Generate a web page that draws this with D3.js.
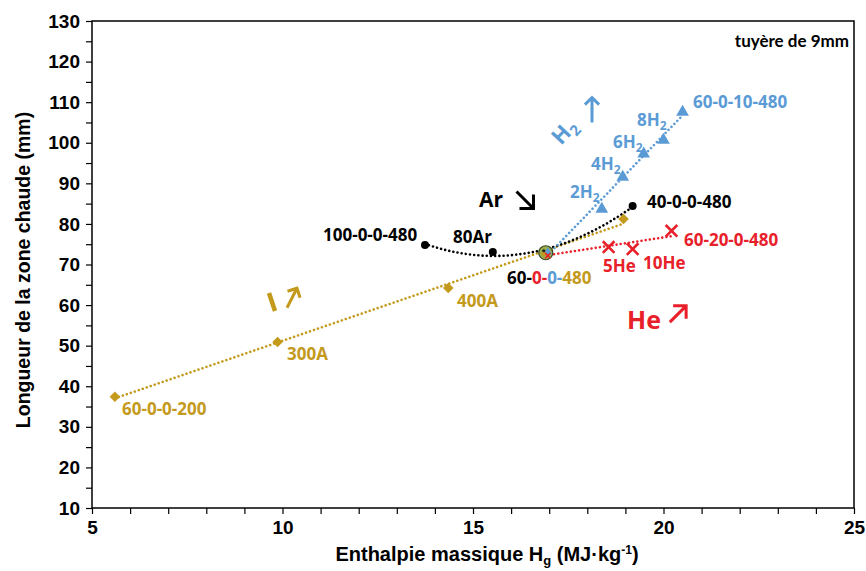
<!DOCTYPE html>
<html>
<head>
<meta charset="utf-8">
<script src="https://cdn.jsdelivr.net/npm/d3@7"></script>
<style>
  body { margin: 0; background: #fff; }
  svg text { font-family: "Liberation Sans", Arial, sans-serif; }
  .lbl { font-family: "Open Sans", "Noto Sans", sans-serif; font-weight: 700; font-size: 17px; }
</style>
</head>
<body>
<div id="chart"></div>
<script>
// données (tuyère de 9 mm)
const xTicks = [5, 10, 15, 20, 25];
const yTicks = [10, 20, 30, 40, 50, 60, 70, 80, 90, 100, 110, 120, 130];

// courant (I) : 200A -> 480A
const iX = [5.6, 9.87, 14.35, 16.91, 18.95];
const iY = [37.4, 50.9, 64.2, 72.9, 81.2];
// argon
const arX = [13.74, 15.52, 16.91, 19.19];
const arY = [74.8, 73.1, 72.9, 84.4];
// hydrogene
const h2X = [16.91, 18.38, 18.93, 19.48, 20.0, 20.5];
const h2Y = [72.9, 83.9, 91.8, 97.5, 100.9, 107.8];
// helium
const heX = [16.91, 18.56, 19.19, 20.21];
const heY = [72.9, 74.3, 73.8, 78.3];

const gold = '#c49a1c', blue = '#5b9bd5', red = '#e8202a', black = '#000';

const W = 866, H = 571;
const margin = { top: 21, right: 12, bottom: 63, left: 92 };

const svg = d3.select('#chart').append('svg')
    .attr('width', W).attr('height', H);

const x = d3.scaleLinear().domain([5, 25]).range([margin.left, W - margin.right]);
const y = d3.scaleLinear().domain([10, 130]).range([H - margin.bottom, margin.top]);

// cadre
svg.append('rect')
    .attr('x', x(5)).attr('y', y(130))
    .attr('width', x(25) - x(5)).attr('height', y(10) - y(130))
    .attr('fill', 'none').attr('stroke', '#000').attr('stroke-width', 1.5);

// axes
const xAxis = svg.append('g').attr('transform', `translate(0,${y(10)})`)
    .call(d3.axisBottom(x).tickValues(d3.range(5, 26, 1)).tickSize(6)
        .tickFormat(d => xTicks.includes(d) ? d : ''));
xAxis.select('.domain').remove();
xAxis.selectAll('text')
    .attr('y', 12).attr('dy', '0.75em')
    .style('font-weight', 700).style('font-size', '19px');

const yAxis = svg.append('g').attr('transform', `translate(${x(5)},0)`)
    .call(d3.axisLeft(y).tickValues(d3.range(10, 131, 5)).tickSize(6)
        .tickFormat(d => yTicks.includes(d) ? d : ''));
yAxis.select('.domain').remove();
yAxis.selectAll('text').attr('x', -12)
    .style('font-weight', 700).style('font-size', '19px');
svg.selectAll('.tick line').attr('stroke', '#000').attr('stroke-width', 1.2);

// titres des axes
svg.append('text')
    .attr('transform', `translate(30,270) rotate(-90)`)
    .attr('text-anchor', 'middle')
    .style('font-weight', 700).style('font-size', '19.5px')
    .text('Longueur de la zone chaude (mm)');

const xt = svg.append('text')
    .attr('x', 487).attr('y', 561)
    .attr('text-anchor', 'middle')
    .style('font-weight', 700).style('font-size', '20px');
xt.append('tspan').text('Enthalpie massique H');
xt.append('tspan').attr('dy', 4).style('font-size', '13px').text('g');
xt.append('tspan').attr('dy', -4).text(' (MJ·kg');
xt.append('tspan').attr('dy', -7).style('font-size', '12px').text('-1');
xt.append('tspan').attr('dy', 7).text(')');

svg.append('text')
    .attr('x', 849).attr('y', 47).attr('text-anchor', 'end')
    .style('font-family', 'Lato, "Open Sans", sans-serif')
    .style('font-weight', 700).style('font-size', '17px')
    .text('tuyère de 9mm');

// ajustement polynomial par moindres carres (courbes de tendance)
function polyfit(xs, ys, deg) {
    const n = deg + 1;
    const A = d3.range(n).map(i => d3.range(n).map(j => d3.sum(xs, v => Math.pow(v, i + j))));
    const b = d3.range(n).map(i => d3.sum(xs, (v, k) => Math.pow(v, i) * ys[k]));
    for (let c = 0; c < n; c++) {
        for (let r = c + 1; r < n; r++) {
            const f = A[r][c] / A[c][c];
            for (let k = c; k < n; k++) A[r][k] -= f * A[c][k];
            b[r] -= f * b[c];
        }
    }
    const coef = new Array(n).fill(0);
    for (let r = n - 1; r >= 0; r--) {
        let s = b[r];
        for (let k = r + 1; k < n; k++) s -= A[r][k] * coef[k];
        coef[r] = s / A[r][r];
    }
    return v => d3.sum(coef, (c, i) => c * Math.pow(v, i));
}

const line = d3.line().x(d => x(d[0])).y(d => y(d[1]));

function trend(xs, ys, deg, color) {
    const f = polyfit(xs, ys, deg);
    const [a, b] = d3.extent(xs);
    const pts = d3.range(0, 41).map(i => { const v = a + (b - a) * i / 40; return [v, f(v)]; });
    svg.append('path').datum(pts)
        .attr('d', line)
        .attr('fill', 'none').attr('stroke', color)
        .attr('stroke-width', 2.6)
        .attr('stroke-dasharray', '0.01 4.2')
        .attr('stroke-linecap', 'round');
}

trend(iX, iY, 1, gold);
trend(arX, arY, 2, black);
trend(h2X, h2Y, 1, blue);
trend(heX, heY, 1, red);

// marqueurs
const zip = (a, b) => a.map((v, i) => [v, b[i]]);

svg.append('g').selectAll('path').data(zip(iX, iY)).join('path')
    .attr('transform', d => `translate(${x(d[0])},${y(d[1])})`)
    .attr('d', d3.symbol(d3.symbolDiamond2, 70))
    .attr('fill', gold);

svg.append('g').selectAll('path').data(zip(h2X, h2Y).slice(1)).join('path')
    .attr('transform', d => `translate(${x(d[0])},${y(d[1]) + 1})`)
    .attr('d', d3.symbol(d3.symbolTriangle, 70))
    .attr('fill', blue);

svg.append('g').selectAll('path').data(zip(heX, heY).slice(1)).join('path')
    .attr('transform', d => `translate(${x(d[0])},${y(d[1])})`)
    .attr('d', d3.symbol(d3.symbolTimes, 90))
    .attr('fill', 'none').attr('stroke', red).attr('stroke-width', 2.6);

svg.append('g').selectAll('circle').data(zip(arX, arY).filter(d => d[0] !== 16.91)).join('circle')
    .attr('cx', d => x(d[0])).attr('cy', d => y(d[1])).attr('r', 4)
    .attr('fill', black);

// point central commun (60-0-0-480) : marqueurs superposes
const c0 = [x(iX[3]), y(iY[3])];
const cg = svg.append('g').attr('transform', `translate(${c0[0]},${c0[1]})`);
cg.append('circle').attr('r', 7).attr('fill', '#9bb04a').attr('stroke', '#3a4a2a').attr('stroke-width', 1.2);
cg.append('path').attr('d', d3.symbol(d3.symbolTriangle, 30)).attr('fill', blue).attr('transform', 'translate(2,-1)');
cg.append('path').attr('d', d3.symbol(d3.symbolDiamond2, 25)).attr('fill', gold).attr('transform', 'translate(-2,1)');
cg.append('path').attr('d', d3.symbol(d3.symbolTimes, 20)).attr('fill', 'none').attr('stroke', red)
    .attr('stroke-width', 1.5).attr('transform', 'translate(2,3)');
cg.append('circle').attr('r', 1.6).attr('fill', '#222').attr('cx', -2).attr('cy', -2);

// etiquettes
function label(tx, ty, txt, color, size) {
    return svg.append('text').attr('class', 'lbl')
        .attr('x', tx).attr('y', ty).attr('fill', color)
        .style('font-size', (size || 17) + 'px').text(txt);
}
function labelSub(tx, ty, main, sub, color) {
    const t = svg.append('text').attr('class', 'lbl').attr('x', tx).attr('y', ty).attr('fill', color);
    t.append('tspan').text(main);
    t.append('tspan').attr('dy', 4).style('font-size', '12px').text(sub);
    return t;
}

label(122, 415, '60-0-0-200', gold);
label(287, 360, '300A', gold);
label(457, 307, '400A', gold);

label(323, 241, '100-0-0-480', black);
label(453, 243, '80Ar', black);
label(647, 208, '40-0-0-480', black);

label(693, 108, '60-0-10-480', blue);
labelSub(637, 126, '8H', '2', blue);
labelSub(613, 148, '6H', '2', blue);
labelSub(591, 170, '4H', '2', blue);
labelSub(570, 198, '2H', '2', blue);

label(684, 246, '60-20-0-480', red);
label(603, 272, '5He', red);
label(643, 269, '10He', red);

const cl = svg.append('text').attr('class', 'lbl').attr('x', 507).attr('y', 284);
[['60-', black], ['0-', red], ['0-', blue], ['480', gold]].forEach(p =>
    cl.append('tspan').attr('fill', p[1]).text(p[0]));

// fleches de tendance
function arrow(cx, cy, len, angle, h, color) {
    const a = angle * Math.PI / 180;
    const tip = [cx + Math.cos(a) * len / 2, cy + Math.sin(a) * len / 2];
    const tail = [cx - Math.cos(a) * len / 2, cy - Math.sin(a) * len / 2];
    const arm = s => [tip[0] - Math.cos(a + s) * h, tip[1] - Math.sin(a + s) * h];
    const p = d3.path();
    p.moveTo(...tail); p.lineTo(...tip);
    p.moveTo(...arm(Math.PI / 4)); p.lineTo(...tip); p.lineTo(...arm(-Math.PI / 4));
    svg.append('path').attr('d', p.toString())
        .attr('fill', 'none').attr('stroke', color).attr('stroke-width', 3)
        .attr('stroke-linecap', 'butt').attr('stroke-linejoin', 'miter');
}

label(479, 207, 'Ar', black, 21);
arrow(525, 200, 24, 45, 14, black);

label(627, 329, 'He', red, 25);
arrow(678, 314, 23, -45, 13, red);

const hh = svg.append('text').attr('class', 'lbl').attr('fill', blue)
    .attr('transform', 'translate(561,146) rotate(-47)').style('font-size', '22px');
hh.append('tspan').text('H');
hh.append('tspan').attr('dy', 5).style('font-size', '15px').text('2');
arrow(592, 110, 25, -90, 10, blue);

svg.append('line').attr('x1', 269).attr('y1', 293).attr('x2', 275).attr('y2', 311)
    .attr('stroke', gold).attr('stroke-width', 4.5);
arrow(292, 298, 22, -63, 10, gold);
</script>
</body>
</html>
